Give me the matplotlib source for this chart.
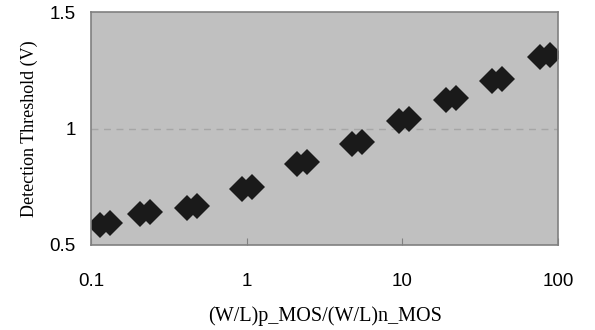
import numpy as np
import matplotlib.pyplot as plt

# Ratio of (W/L)p to (W/L)n and the detection threshold (two runs per ratio)
ratio = [0.123, 0.222, 0.446, 1.0, 2.27, 5.1, 10.2, 20.5, 40.5, 82.0]
vth_run1 = [0.587, 0.632, 0.659, 0.740, 0.847, 0.932, 1.031, 1.122, 1.202, 1.306]
vth_run2 = [0.593, 0.642, 0.667, 0.750, 0.858, 0.944, 1.041, 1.132, 1.212, 1.316]
xticks = [0.1, 1, 10, 100]
xtick_labels = ['0.1', '1', '10', '100']
yticks = [0.5, 1.0, 1.5]
ytick_labels = ['0.5', '1', '1.5']

fig = plt.figure(figsize=(5.95, 3.3), dpi=100)
ax = fig.add_axes([0.153, 0.2576, 0.785, 0.706])
ax.set_facecolor('#c0c0c0')

x = np.array(ratio)
ax.plot(x / 1.075, vth_run1, 'D', color='#1a1a1a', markersize=13.5, markeredgewidth=0)
ax.plot(x * 1.075, vth_run2, 'D', color='#1a1a1a', markersize=13.5, markeredgewidth=0)

ax.axhline(1.0, color='#a6a6a6', linestyle=(0, (5, 4)), linewidth=1, zorder=0.5)

ax.set_xscale('log')
ax.set_xlim(0.1, 100)
ax.set_ylim(0.5, 1.5)
ax.set_xticks(xticks)
ax.set_xticklabels(xtick_labels)
ax.set_yticks(yticks)
ax.set_yticklabels(ytick_labels)
ax.minorticks_off()
ax.tick_params(axis='x', direction='in', length=5, color='#808080', pad=20,
               labelsize=13.5)
ax.tick_params(axis='y', length=0, pad=11, labelsize=13.5)
for lab in ax.get_xticklabels() + ax.get_yticklabels():
    lab.set_family('Liberation Sans')

for s in ax.spines.values():
    s.set_color('#808080')
    s.set_linewidth(1.2)

ax.set_xlabel('(W/L)p_MOS/(W/L)n_MOS', family='Liberation Serif', fontsize=14.5, labelpad=12)
ax.set_ylabel('Detection Threshold (V)', family='Liberation Serif', fontsize=13, labelpad=8)

plt.savefig('out.png', dpi=100)
plt.close()
